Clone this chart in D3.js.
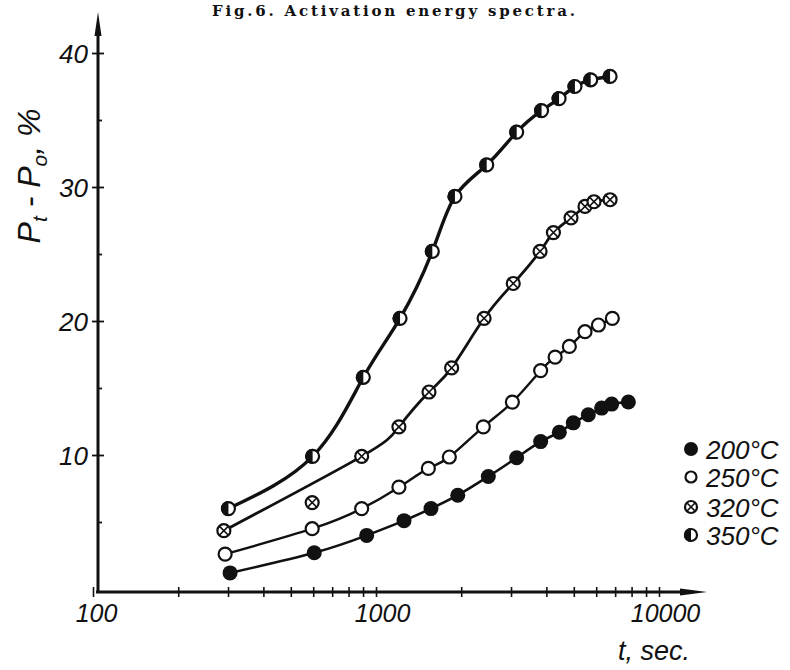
<!DOCTYPE html>
<html>
<head>
<meta charset="utf-8">
<script src="https://cdn.jsdelivr.net/npm/d3@7"></script>
<style>
  body { margin: 0; background: #fff; }
  svg { display: block; }
  text { fill: #111; }
</style>
</head>
<body>
<div id="chart"></div>
<script>
// Fig.6 - values
const temps = ['200°C', '250°C', '320°C', '350°C'];

const t200 = [305, 605, 927, 1256, 1564, 1945, 2494, 3140, 3818, 4444, 4977, 5626, 6270, 6804, 7794];
const p200 = [1.2, 2.7, 4.0, 5.1, 6.0, 7.0, 8.4, 9.8, 11.0, 11.7, 12.4, 13.0, 13.5, 13.8, 13.95];

const t250 = [293, 595, 890, 1205, 1531, 1816, 2395, 3033, 3818, 4295, 4822, 5477, 6109, 6841];
const p250 = [2.6, 4.5, 6.0, 7.6, 9.0, 9.85, 12.1, 13.95, 16.3, 17.3, 18.1, 19.2, 19.7, 20.2];

const t320 = [290, 595, 890, 1205, 1539, 1850, 2410, 3055, 3800, 4236, 4888, 5477, 5892, 6717];
const p320 = [4.35, 6.45, 9.9, 12.1, 14.7, 16.5, 20.2, 22.8, 25.2, 26.6, 27.7, 28.55, 28.9, 29.05];
const off320 = [1]; // point that lies below the drawn curve

const t350 = [301, 597, 902, 1216, 1581, 1901, 2461, 3141, 3846, 4435, 5047, 5737, 6717];
const p350 = [6.0, 9.9, 15.8, 20.2, 25.2, 29.3, 31.65, 34.1, 35.7, 36.6, 37.5, 38.0, 38.25];

const xMajor = [100, 1000, 10000];
const xMinor = [200, 300, 400, 500, 600, 700, 800, 900, 2000, 3000, 4000, 5000, 6000, 7000, 8000, 9000];
const yMajor = [10, 20, 30, 40];
const yMinor = [5, 15, 25, 35];

const width = 790, height = 670;
const axisX = 98, axisY = 592;

const svg = d3.select('#chart').append('svg')
  .attr('width', width)
  .attr('height', height);

svg.append('rect').attr('width', width).attr('height', height).attr('fill', '#fff');

const x = d3.scaleLog().domain([100, 10000]).range([93, 659]);
const y = d3.scaleLinear().domain([0, 40]).range([589, 53]);

// title
svg.append('text')
  .attr('x', 212).attr('y', 16)
  .attr('textLength', 363)
  .attr('lengthAdjust', 'spacing')
  .style('font-family', '"DejaVu Serif", serif')
  .style('font-weight', 'bold')
  .style('font-size', '15px')
  .text('Fig.6. Activation energy spectra.');

// x axis
const xAxis = svg.append('g')
  .attr('transform', `translate(0,${axisY})`)
  .call(d3.axisBottom(x)
    .tickValues(xMajor.concat(xMinor))
    .tickSize(5)
    .tickFormat(d => xMajor.includes(d) ? d3.format('d')(d) : ''));

xAxis.select('.domain').remove();
xAxis.selectAll('.tick line')
  .attr('y1', -5).attr('y2', 5)
  .attr('stroke', '#111').attr('stroke-width', 1.6);
xAxis.selectAll('.tick text')
  .attr('dy', 0).attr('y', 30)
  .attr('dx', d => d === 100 ? 3 : 6)
  .style('font-family', '"Liberation Sans", Arial, sans-serif')
  .style('font-style', 'italic')
  .style('font-size', '25px');

svg.append('line')
  .attr('x1', axisX - 2).attr('x2', 690)
  .attr('y1', axisY).attr('y2', axisY)
  .attr('stroke', '#111').attr('stroke-width', 3);
svg.append('path')
  .attr('d', `M680,${axisY - 3.5} L707,${axisY} L680,${axisY + 3.5} Z`)
  .attr('fill', '#111');

// y axis
const yAxis = svg.append('g')
  .attr('transform', `translate(${axisX},0)`)
  .call(d3.axisLeft(y)
    .tickValues(yMajor.concat(yMinor))
    .tickSize(6)
    .tickFormat(d => yMajor.includes(d) ? d : ''));

yAxis.select('.domain').remove();
yAxis.selectAll('.tick line')
  .attr('x1', d => yMajor.includes(d) ? 6 : 4)
  .attr('x2', d => yMajor.includes(d) ? -6 : -1)
  .attr('stroke', '#111').attr('stroke-width', 1.8);
yAxis.selectAll('.tick text')
  .attr('x', -10).attr('dy', '0.36em')
  .style('font-family', '"Liberation Sans", Arial, sans-serif')
  .style('font-style', 'italic')
  .style('font-size', '26px');

svg.append('line')
  .attr('x1', axisX).attr('x2', axisX)
  .attr('y1', axisY + 1).attr('y2', 30)
  .attr('stroke', '#111').attr('stroke-width', 3);
svg.append('path')
  .attr('d', `M${axisX - 3.5},36 L${axisX},12 L${axisX + 3.5},36 Z`)
  .attr('fill', '#111');

// axis titles
const yLab = svg.append('text')
  .attr('transform', 'translate(40,176) rotate(-90)')
  .attr('text-anchor', 'middle')
  .style('font-family', '"Liberation Sans", Arial, sans-serif')
  .style('font-style', 'italic')
  .style('font-size', '32px');
yLab.append('tspan').text('P');
yLab.append('tspan').attr('dy', 7).style('font-size', '21px').text('t');
yLab.append('tspan').attr('dy', -7).text(' - P');
yLab.append('tspan').attr('dy', 7).style('font-size', '21px').text('o');
yLab.append('tspan').attr('dy', -7).text(', %');

svg.append('text')
  .attr('x', 618).attr('y', 660)
  .style('font-family', '"Liberation Sans", Arial, sans-serif')
  .style('font-style', 'italic')
  .style('font-size', '27px')
  .text('t, sec.');

// markers
function drawMarker(g, kind, r) {
  if (kind === 0) {
    g.append('circle').attr('r', r).attr('fill', '#111');
    return;
  }
  g.append('circle').attr('r', r - 1)
    .attr('fill', '#fff').attr('stroke', '#111').attr('stroke-width', 2.2);
  if (kind === 2) {
    const k = (r - 1) * 0.7;
    g.append('path')
      .attr('d', `M${-k},${-k}L${k},${k}M${-k},${k}L${k},${-k}`)
      .attr('stroke', '#111').attr('stroke-width', 1.6);
  } else if (kind === 3) {
    g.append('path')
      .attr('d', `M0,${-r}A${r},${r} 0 0 0 0,${r}Z`)
      .attr('fill', '#111');
  }
}

const series = [
  { t: t200, p: p200, off: [] },
  { t: t250, p: p250, off: [] },
  { t: t320, p: p320, off: off320 },
  { t: t350, p: p350, off: [] }
];
const lineWidths = [2.6, 2.4, 2.8, 3.4];

const line = d3.line()
  .x(d => x(d[0]))
  .y(d => y(d[1]))
  .curve(d3.curveNatural);

series.forEach((s, i) => {
  const pts = s.t.map((t, j) => [t, s.p[j], j]);
  svg.append('path')
    .datum(pts.filter(d => !s.off.includes(d[2])))
    .attr('fill', 'none')
    .attr('stroke', '#111')
    .attr('stroke-width', lineWidths[i])
    .attr('stroke-linecap', 'round')
    .attr('d', line);

  pts.forEach(d => {
    const g = svg.append('g').attr('transform', `translate(${x(d[0])},${y(d[1])})`);
    drawMarker(g, i, 7.5);
  });
});

// legend
const legendRows = [449, 477, 507, 535];
temps.forEach((label, i) => {
  const g = svg.append('g').attr('transform', `translate(691,${legendRows[i]})`);
  drawMarker(g, i, i === 1 ? 6.5 : 7);
  g.append('text')
    .attr('x', 15).attr('y', 10)
    .style('font-family', '"Liberation Sans", Arial, sans-serif')
    .style('font-style', 'italic')
    .style('font-size', '26px')
    .text(label);
});
</script>
</body>
</html>
